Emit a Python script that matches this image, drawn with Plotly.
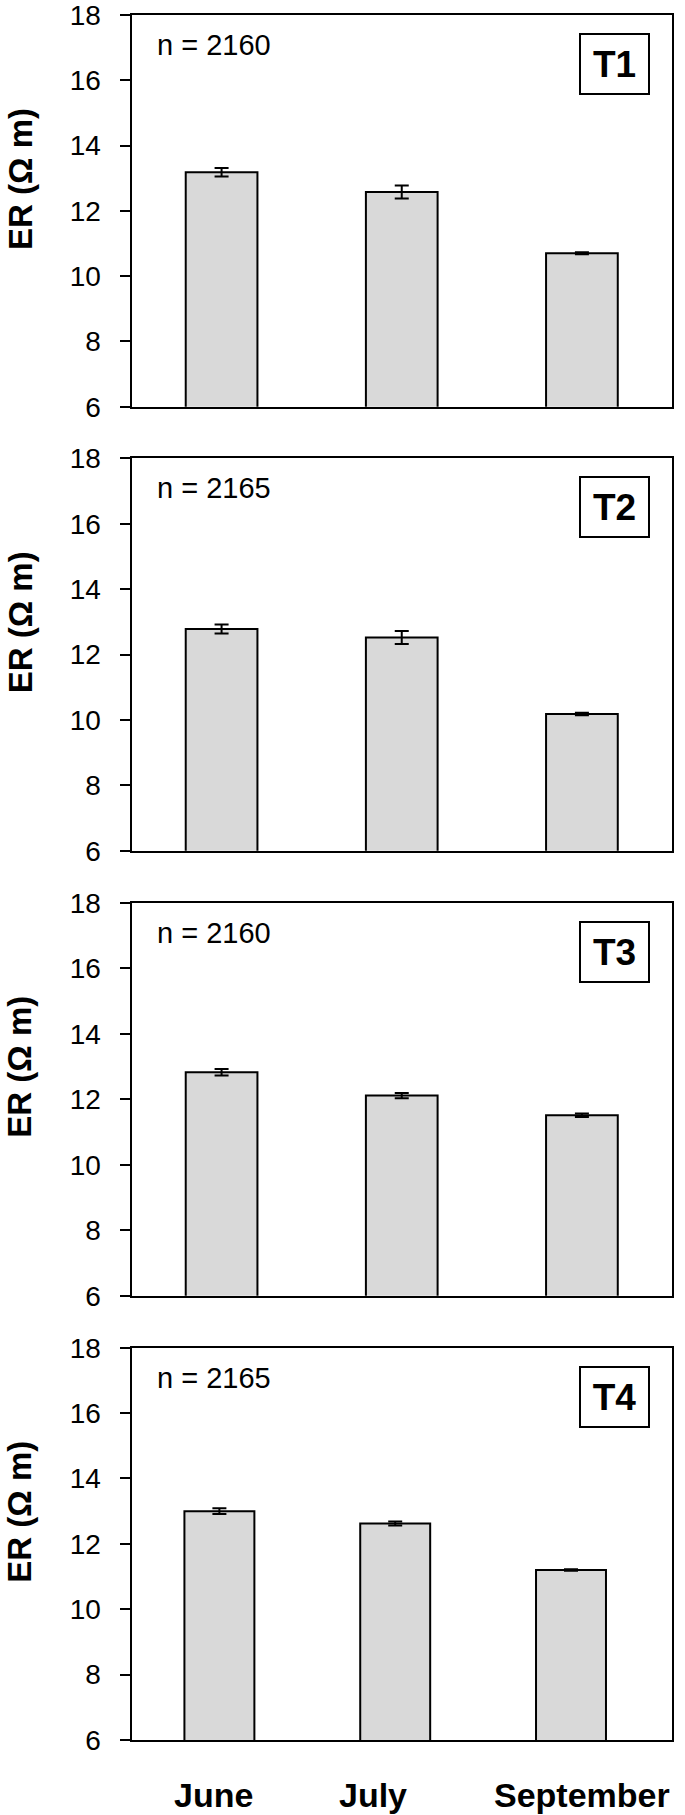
import plotly.graph_objects as go

W, H = 685, 1815

months = ["June", "July", "September"]
panels = ["T1", "T2", "T3", "T4"]
n_labels = ["n = 2160", "n = 2165", "n = 2160", "n = 2165"]
er_t1 = [13.18, 12.58, 10.70]
er_t2 = [12.78, 12.52, 10.18]
er_t3 = [12.82, 12.11, 11.51]
er_t4 = [13.00, 12.62, 11.20]
se_t1 = [0.13, 0.20, 0.03]
se_t2 = [0.14, 0.20, 0.04]
se_t3 = [0.10, 0.08, 0.05]
se_t4 = [0.09, 0.06, 0.02]
y_ticks = [6, 8, 10, 12, 14, 16, 18]
y_range = [6, 18]

values = [er_t1, er_t2, er_t3, er_t4]
errors = [se_t1, se_t2, se_t3, se_t4]

# layout in pixels (top, bottom) of each panel
panel_px = [(15.0, 406.7), (458.3, 850.7), (902.7, 1295.7), (1347.7, 1740.0)]
x_left, x_right = 131.5, 672.0
month_shift = [-6, -22, 11]

def px_x(p):
    return p / W

def px_y(p):
    return 1 - p / H

FONT = "Liberation Sans, Arial, sans-serif"

fig = go.Figure()
for i in range(4):
    ax = "" if i == 0 else str(i + 1)
    fig.add_trace(go.Bar(
        x=months, y=values[i],
        xaxis="x" + ax, yaxis="y" + ax,
        marker=dict(color="#d9d9d9", line=dict(color="black", width=2)),
        error_y=dict(type="data", array=errors[i], color="black", thickness=2, width=7),
        showlegend=False,
    ))
    top, bot = panel_px[i]
    fig.layout["xaxis" + ax] = dict(
        domain=[px_x(x_left), px_x(x_right)],
        anchor="y" + ax, automargin=False,
        showline=True, mirror=True, linecolor="black", linewidth=2,
        ticks="", showticklabels=False,
        showgrid=False, zeroline=False, fixedrange=True,
    )
    fig.layout["yaxis" + ax] = dict(
        domain=[px_y(bot), px_y(top)],
        anchor="x" + ax, automargin=False,
        range=y_range, tickvals=y_ticks,
        showline=True, mirror=True, linecolor="black", linewidth=2,
        ticks="outside", ticklen=10, tickwidth=2, tickcolor="black",
        tickfont=dict(family=FONT, size=28, color="black"),
        ticklabelstandoff=13, ticklabeloverflow="allow",
        showgrid=False, zeroline=False, fixedrange=True,
    )
    # y-axis title
    fig.add_annotation(
        text="<b>ER (Ω m)</b>", textangle=-90,
        x=px_x(20), y=px_y(top + 164), xref="paper", yref="paper",
        xanchor="center", yanchor="middle", showarrow=False,
        font=dict(family=FONT, size=33, color="black"),
    )
    # n label
    fig.add_annotation(
        text=n_labels[i],
        x=px_x(155), y=px_y(top + 30), xref="paper", yref="paper",
        xanchor="left", yanchor="middle", showarrow=False,
        font=dict(family=FONT, size=29, color="black"),
    )
    # panel label box
    fig.add_annotation(
        text="<b>" + panels[i] + "</b>",
        x=px_x(x_right - 58), y=px_y(top + 49), xref="paper", yref="paper",
        xanchor="center", yanchor="middle", showarrow=False,
        width=67, height=58, borderpad=0,
        bordercolor="black", borderwidth=2, bgcolor="white",
        font=dict(family=FONT, size=37, color="black"),
    )

# month labels under the bottom panel
for m, dx in zip(months, month_shift):
    fig.add_annotation(
        text="<b>" + m + "</b>",
        x=m, y=px_y(1795), xref="x4", yref="paper", xshift=dx,
        xanchor="center", yanchor="middle", showarrow=False,
        font=dict(family=FONT, size=34, color="black"),
    )

fig.update_layout(
    width=W, height=H,
    margin=dict(l=0, r=0, t=0, b=0, autoexpand=False),
    paper_bgcolor="white", plot_bgcolor="white",
    bargap=0.602,
)

fig.write_html(
    "out.html",
    config={"displayModeBar": False},
    post_script="document.body.style.margin='0px';document.body.style.overflow='hidden';",
)
